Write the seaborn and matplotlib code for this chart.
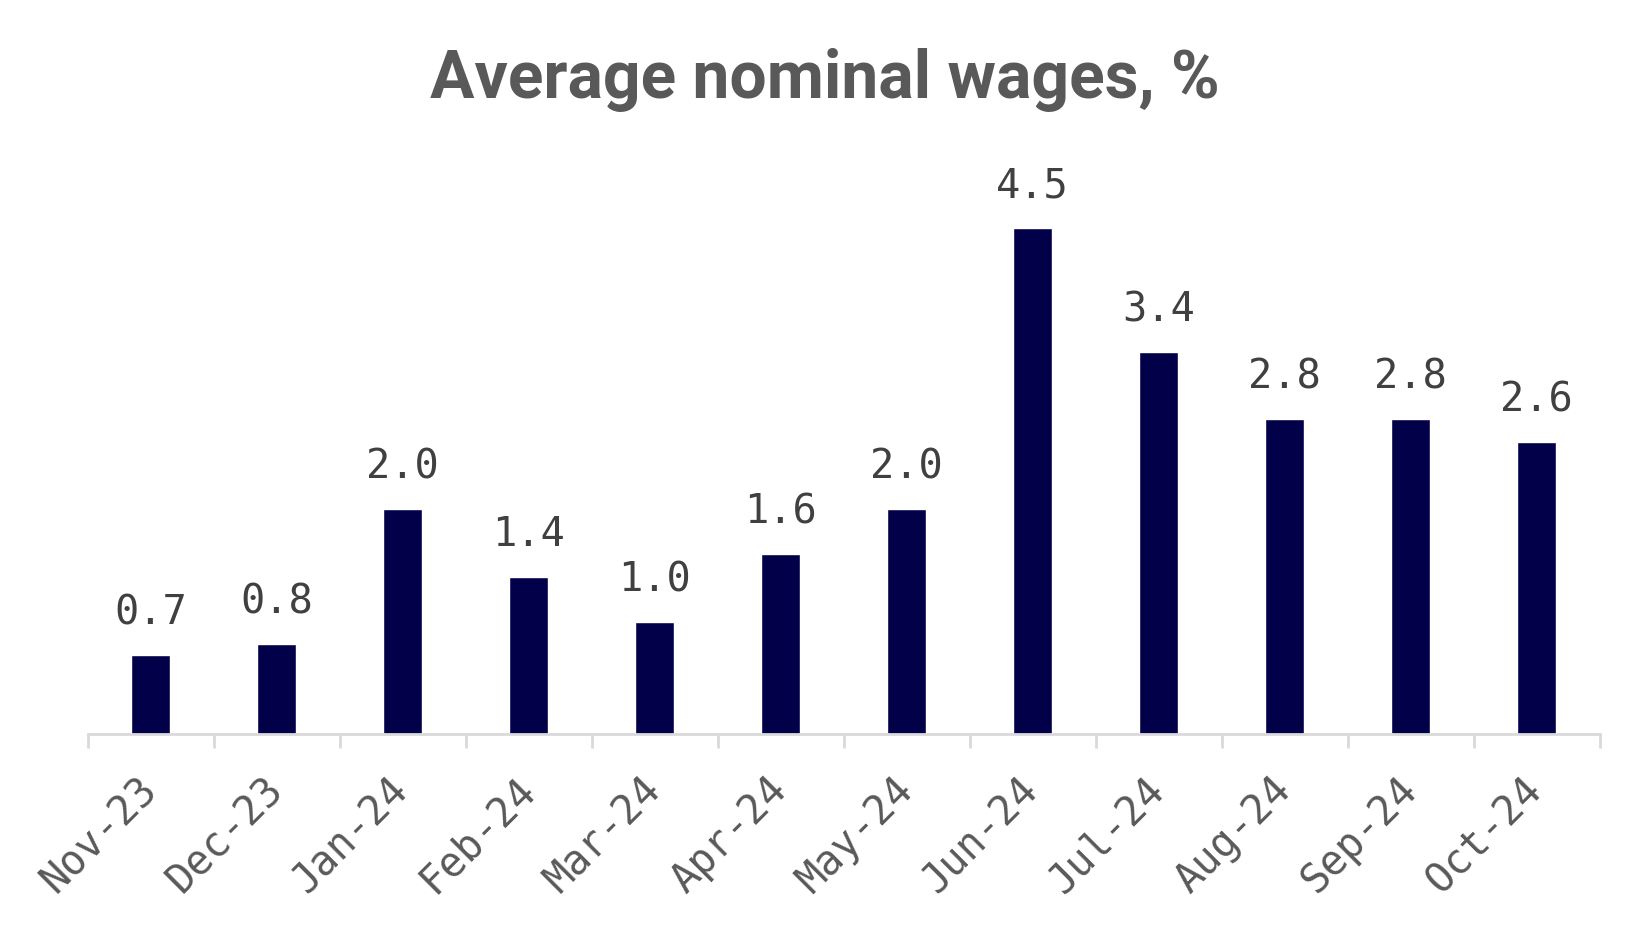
import matplotlib
matplotlib.use("Agg")
import matplotlib.pyplot as plt
import seaborn as sns
import pandas as pd
import numpy as np

# monthly figures
months = ["Nov-23", "Dec-23", "Jan-24", "Feb-24", "Mar-24", "Apr-24",
          "May-24", "Jun-24", "Jul-24", "Aug-24", "Sep-24", "Oct-24"]
wages = [0.7, 0.8, 2.0, 1.4, 1.0, 1.6, 2.0, 4.5, 3.4, 2.8, 2.8, 2.6]

df = pd.DataFrame({"month": months, "wage": wages})

sns.set_theme(style="white")
plt.rcParams['font.family'] = ['DejaVu Sans Mono', 'DejaVu Sans']

fig = plt.figure(figsize=(16.5, 9.35), dpi=100)
ax = fig.add_axes([0.0533, 0.2148, 0.9161, 0.6010])

sns.barplot(data=df, x="month", y="wage", color="#03004A", width=0.31,
            saturation=1, ax=ax)

ax.set_xlim(-0.5, len(months) - 0.5)
ax.set_ylim(0, 5.0)

# value labels above the bars
for i, v in enumerate(wages):
    ax.annotate(f"{v:.1f}", xy=(i, v), xytext=(0, 22), textcoords="offset points",
                ha="center", va="baseline", fontsize=29, color="#404040")

for s in ["top", "right", "left"]:
    ax.spines[s].set_visible(False)
ax.spines["bottom"].set_color("#d9d9d9")
ax.spines["bottom"].set_linewidth(2)
ax.set_yticks([])
ax.set_xlabel("")
ax.set_ylabel("")

# tick marks between categories, labels at the centres
ax.set_xticks(np.arange(len(months)))
ax.set_xticklabels(months, rotation=45, ha="right", va="center",
                   rotation_mode="anchor", fontsize=29, color="#595959")
ax.set_xticks(np.arange(len(months) + 1) - 0.5, minor=True)
ax.tick_params(axis="x", which="major", length=0, pad=36)
ax.tick_params(axis="x", which="minor", length=10, width=2, color="#d9d9d9",
               direction="out", bottom=True)

fig.text(0.5, 0.895, "Average nominal wages, %", ha="center", va="baseline",
         fontsize=47.5, fontweight="bold", color="#595959", family=["Roboto", "DejaVu Sans"])

fig.savefig("out.png", dpi=100)
